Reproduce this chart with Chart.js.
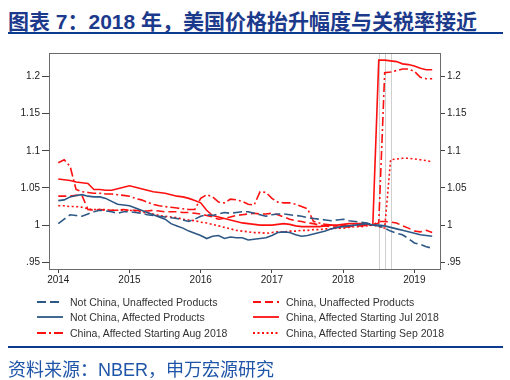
<!DOCTYPE html>
<html>
<head>
<meta charset="utf-8">
<script src="https://cdn.jsdelivr.net/npm/chart.js@4.4.1/dist/chart.umd.min.js"></script>
<style>
    body { margin: 0; width: 510px; height: 380px; background: #fff; position: relative; overflow: hidden;
           font-family: "Liberation Sans", Arial, "Noto Sans CJK SC", sans-serif; }
    #title  { position: absolute; left: 8px; top: 5px; white-space: nowrap; color: #1c3a8c;
              font: bold 21px "Liberation Sans", "Noto Sans CJK SC", sans-serif; }
    .rule   { position: absolute; left: 8px; width: 495px; height: 2px; background: #0c3a8e; }
    #source { position: absolute; left: 8px; top: 355px; white-space: nowrap; color: #1f55a8;
              font: 18px "Liberation Sans", "Noto Sans CJK SC", sans-serif; }
    #chart  { position: absolute; left: 0; top: 0; }
    .lg     { position: absolute; font-size: 10.5px; color: #333; white-space: nowrap; line-height: 12px; }
    .lg svg { position: absolute; top: 0; }
</style>
</head>
<body>
<div id="title">图表 7：2018 年，美国价格抬升幅度与关税率接近</div>
<div class="rule" style="top:32px"></div>
<canvas id="chart" width="510" height="380"></canvas>
<div id="legend"></div>
<div class="rule" style="top:346px"></div>
<div id="source">资料来源：NBER，申万宏源研究</div>

<script>
// ─── データ（2014年1月〜2019年4月, 月次） ───
const firstYear  = 2014;
const xTicks     = [2014, 2015, 2016, 2017, 2018, 2019];
const yTicks     = [0.95, 1, 1.05, 1.1, 1.15, 1.2];
const tariffMonths = ['2018-07', '2018-08', '2018-09'];

const notChinaUnaffected = [
    1.002, 1.008, 1.014, 1.013, 1.012, 1.015, 1.018, 1.020, 1.019, 1.018,
    1.016, 1.018, 1.018, 1.017, 1.016, 1.014, 1.013, 1.012, 1.011, 1.010,
    1.009, 1.007, 1.005, 1.008, 1.012, 1.014, 1.013, 1.015, 1.017, 1.016,
    1.017, 1.018, 1.018, 1.016, 1.014, 1.012, 1.014, 1.015, 1.015, 1.014,
    1.013, 1.012, 1.010, 1.009, 1.008, 1.007, 1.006, 1.007, 1.008, 1.006,
    1.005, 1.004, 1.003, 1.000, 0.999, 0.996, 0.992, 0.989, 0.987, 0.982,
    0.976, 0.974, 0.971, 0.969,
];
const notChinaAffected = [
    1.033, 1.034, 1.038, 1.040, 1.041, 1.039, 1.038, 1.038, 1.036, 1.032,
    1.028, 1.027, 1.026, 1.023, 1.020, 1.017, 1.014, 1.011, 1.008, 1.002,
    0.999, 0.996, 0.992, 0.989, 0.986, 0.982, 0.985, 0.986, 0.982, 0.984,
    0.983, 0.983, 0.980, 0.981, 0.982, 0.983, 0.986, 0.990, 0.991, 0.990,
    0.987, 0.985, 0.986, 0.988, 0.990, 0.992, 0.995, 0.997, 0.998, 0.999,
    1.000, 1.001, 1.002, 1.000, 1.000, 0.999, 0.997, 0.995, 0.993, 0.991,
    0.989, 0.987, 0.986, 0.985,
];
const chinaUnaffected = [
    1.039, 1.039, 1.039, 1.040, 1.040, 1.021, 1.020, 1.021, 1.020, 1.020,
    1.020, 1.021, 1.020, 1.020, 1.019, 1.019, 1.020, 1.019, 1.018, 1.018,
    1.018, 1.017, 1.017, 1.016, 1.015, 1.013, 1.011, 1.008, 1.009, 1.011,
    1.013, 1.014, 1.015, 1.016, 1.015, 1.015, 1.016, 1.014, 1.011, 1.008,
    1.006, 1.005, 1.003, 1.002, 1.000, 0.999, 0.998, 0.997, 0.997, 0.998,
    0.999, 0.999, 1.000, 1.000, 1.005, 1.005, 1.004, 1.003, 0.999, 0.996,
    0.992, 0.991, 0.993, 0.990,
];
const chinaJul = [
    1.062, 1.061, 1.060, 1.058, 1.057, 1.056, 1.048, 1.048, 1.047, 1.047,
    1.049, 1.051, 1.053, 1.051, 1.049, 1.047, 1.045, 1.044, 1.043, 1.041,
    1.039, 1.038, 1.036, 1.033, 1.030, 1.020, 1.013, 1.011, 1.009, 1.007,
    1.005, 1.003, 1.002, 1.001, 1.000, 1.000, 1.000, 1.001, 1.002, 1.001,
    0.999, 0.998, 0.998, 0.998, 0.998, 0.999, 1.000, 1.000, 1.001, 1.002,
    1.002, 1.002, 1.001, 1.000, 1.222, 1.222, 1.221, 1.220, 1.217, 1.216,
    1.214, 1.211, 1.209, 1.209,
];
const chinaAug = [
    1.084, 1.088, 1.079, 1.048, 1.045, 1.044, 1.043, 1.043, 1.042, 1.042,
    1.041, 1.040, 1.039, 1.036, 1.034, 1.031, 1.028, 1.026, 1.025, 1.024,
    1.023, 1.022, 1.021, 1.021, 1.036, 1.041, 1.038, 1.031, 1.030, 1.035,
    1.034, 1.032, 1.028, 1.027, 1.045, 1.044, 1.036, 1.031, 1.030, 1.030,
    1.028, 1.025, 1.022, 1.005, 1.003, 1.001, 1.000, 0.999, 0.999, 0.999,
    1.000, 1.000, 1.000, 1.000, 1.003, 1.205, 1.206, 1.208, 1.210, 1.210,
    1.207, 1.199, 1.197, 1.197,
];
const chinaSep = [
    1.026, 1.026, 1.025, 1.025, 1.024, 1.022, 1.021, 1.021, 1.021, 1.020,
    1.020, 1.020, 1.020, 1.019, 1.018, 1.016, 1.015, 1.013, 1.012, 1.011,
    1.010, 1.008, 1.007, 1.006, 1.004, 1.003, 1.001, 0.999, 0.997, 0.995,
    0.993, 0.992, 0.991, 0.990, 0.990, 0.989, 0.990, 0.991, 0.991, 0.992,
    0.992, 0.993, 0.993, 0.994, 0.994, 0.995, 0.995, 0.996, 0.996, 0.997,
    0.998, 0.998, 0.999, 1.000, 0.998, 0.996, 1.088, 1.089, 1.090, 1.090,
    1.089, 1.088, 1.087, 1.085,
];

// 月 → 年の小数
const monthToX = s => { const [y, m] = s.split('-').map(Number); return y + (m - 1) / 12; };
const toPoints = arr => arr.map((v, i) => ({ x: firstYear + i / 12, y: v }));

const BLUE = '#2d5886';
const RED  = '#ff1010';

const series = [
    { label: 'Not China, Unaffected Products',      data: notChinaUnaffected, color: BLUE, dash: [9, 4],       col: 0, row: 0 },
    { label: 'Not China, Affected Products',        data: notChinaAffected,   color: BLUE, dash: [],           col: 0, row: 1 },
    { label: 'China, Affected Starting Aug 2018',   data: chinaAug,           color: RED,  dash: [9, 3, 2, 3], col: 0, row: 2 },
    { label: 'China, Unaffected Products',          data: chinaUnaffected,    color: RED,  dash: [8, 4],       col: 1, row: 0 },
    { label: 'China, Affected Starting Jul 2018',   data: chinaJul,           color: RED,  dash: [],           col: 1, row: 1 },
    { label: 'China, Affected Starting Sep 2018',   data: chinaSep,           color: RED,  dash: [2, 2.5],     col: 1, row: 2 },
];

// ─── 枠線・関税開始月の縦線 ───
const framePlugin = {
    id: 'frame',
    beforeDatasetsDraw(chart) {
        const { ctx, chartArea: a, scales: { x } } = chart;
        ctx.save();
        ctx.strokeStyle = '#cfcfcf';
        ctx.lineWidth = 1;
        tariffMonths.forEach(m => {
            const px = Math.round(x.getPixelForValue(monthToX(m))) + 0.5;
            ctx.beginPath();
            ctx.moveTo(px, a.top);
            ctx.lineTo(px, a.bottom);
            ctx.stroke();
        });
        ctx.strokeStyle = '#6b6b6b';
        ctx.strokeRect(Math.round(a.left) + 0.5, Math.round(a.top) + 0.5,
                       Math.round(a.right - a.left), Math.round(a.bottom - a.top));
        ctx.restore();
    },
};

const tickFont = { size: 10, family: 'Liberation Sans' };
const yLabel = v => (v < 1 ? String(v).replace(/^0/, '') : String(v));

function yAxis(position, width, tickLength) {
    return {
        position,
        min: 0.941, max: 1.2316,
        afterBuildTicks: s => { s.ticks = yTicks.map(v => ({ value: v })); },
        afterFit: s => { s.width = width; },
        grid: { display: true, drawOnChartArea: false, tickLength, color: '#444' },
        border: { color: '#444' },
        ticks: { font: tickFont, color: '#222', padding: 2, callback: yLabel },
    };
}

new Chart(document.getElementById('chart'), {
    type: 'line',
    data: {
        datasets: series.map(s => ({
            label: s.label,
            data: toPoints(s.data),
            borderColor: s.color,
            borderDash: s.dash,
            borderWidth: 1.6,
            pointRadius: 0,
            tension: 0,
            fill: false,
            yAxisID: 'y',
        })),
    },
    options: {
        responsive: false,
        animation: false,
        layout: { padding: { top: 53, bottom: 91, left: 0, right: 0 } },
        plugins: { legend: { display: false }, tooltip: { enabled: false } },
        scales: {
            x: {
                type: 'linear',
                min: 2013.87, max: 2019.36,
                afterBuildTicks: s => { s.ticks = xTicks.map(v => ({ value: v })); },
                afterFit: s => { s.height = 20; },
                grid: { display: true, drawOnChartArea: false, tickLength: 4, color: '#444' },
                border: { color: '#444' },
                ticks: { font: tickFont, color: '#222', padding: 1, maxRotation: 0, callback: v => String(v) },
            },
            y:  yAxis('left', 49, 7),
            y2: yAxis('right', 70, 5),
        },
    },
    plugins: [framePlugin],
});

// ─── 凡例（HTML） ───
const legendCols = [37, 253];
const legendRows = [296, 311, 327];
const legend = document.getElementById('legend');
series.forEach(s => {
    const div = document.createElement('div');
    div.className = 'lg';
    div.style.left = legendCols[s.col] + 'px';
    div.style.top  = legendRows[s.row] + 'px';
    div.innerHTML =
        `<svg width="26" height="12"><line x1="0" y1="6" x2="26" y2="6" stroke="${s.color}" stroke-width="1.8"` +
        ` stroke-dasharray="${s.dash.join(' ')}"/></svg>` +
        `<span style="margin-left:33px">${s.label}</span>`;
    legend.appendChild(div);
});
</script>
</body>
</html>
